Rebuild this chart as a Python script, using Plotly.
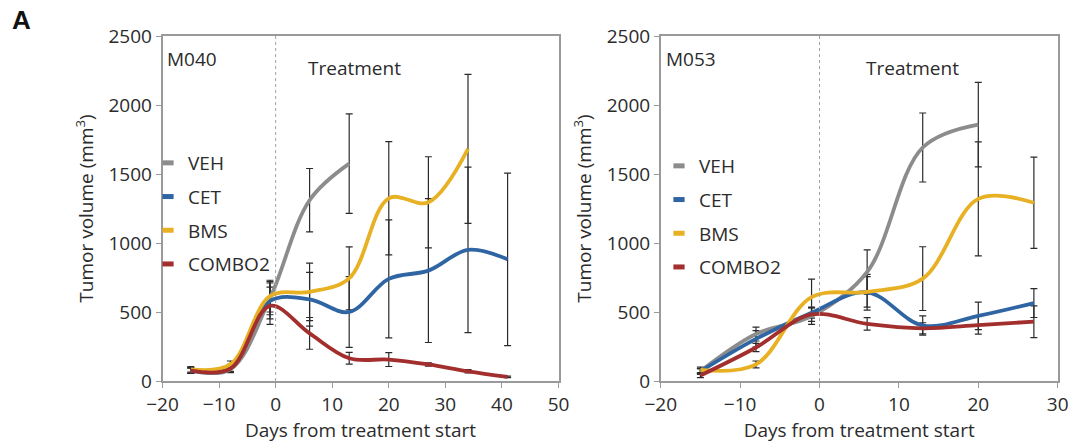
import plotly.graph_objects as go

# ---- M040 (left panel) ----
m040_days = [-15, -8, -1, 6, 13, 20, 27, 34, 41]
m040_veh = [75, 85, 600, 1310, 1575]
m040_veh_err = [20, 25, 120, 230, 360]
m040_cet = [75, 95, 580, 592, 500, 740, 800, 950, 882]
m040_cet_err = [20, 25, 130, 195, 256, 427, 521, 600, 625]
m040_bms = [85, 120, 615, 646, 744, 1324, 1295, 1682]
m040_bms_err = [20, 25, 115, 208, 228, 410, 330, 540]
m040_combo = [75, 90, 545, 345, 165, 155, 120, 70, 30]
m040_combo_err = [20, 25, 135, 115, 43, 50, 12, 12, 6]

# ---- M053 (right panel) ----
m053_days = [-15, -8, -1, 6, 13, 20, 27]
m053_veh = [70, 340, 470, 790, 1692, 1858]
m053_veh_err = [20, 50, 60, 160, 250, 306]
m053_cet = [70, 305, 495, 643, 402, 472, 565]
m053_cet_err = [20, 60, 40, 130, 70, 100, 105]
m053_bms = [80, 120, 608, 646, 742, 1320, 1292]
m053_bms_err = [20, 25, 130, 110, 231, 413, 331]
m053_combo = [40, 243, 482, 414, 382, 405, 430]
m053_combo_err = [15, 30, 50, 45, 40, 65, 115]

groups = ["VEH", "CET", "BMS", "COMBO2"]
colors = {"VEH": "#8c8c8c", "CET": "#2f65a2", "BMS": "#e8b124", "COMBO2": "#a22f2e"}

FONT = "Open Sans"
TXT = "#2b2b2b"
AX = "#9a9a9a"

panels = [
    dict(xa="x", ya="y", legend="legend", days=m040_days,
         series={"VEH": (m040_veh, m040_veh_err), "CET": (m040_cet, m040_cet_err),
                 "BMS": (m040_bms, m040_bms_err), "COMBO2": (m040_combo, m040_combo_err)}),
    dict(xa="x2", ya="y2", legend="legend2", days=m053_days,
         series={"VEH": (m053_veh, m053_veh_err), "CET": (m053_cet, m053_cet_err),
                 "BMS": (m053_bms, m053_bms_err), "COMBO2": (m053_combo, m053_combo_err)}),
]

fig = go.Figure()

for p in panels:
    # error bars first, so the smoothed curves sit on top
    for g in groups:
        vals, errs = p["series"][g]
        fig.add_trace(go.Scatter(
            x=p["days"][:len(vals)], y=vals, mode="markers",
            marker=dict(size=1, color="rgba(0,0,0,0)"),
            error_y=dict(type="data", array=errs, visible=True,
                         color="#2a2a2a", thickness=1.2, width=3.5),
            xaxis=p["xa"], yaxis=p["ya"], showlegend=False, hoverinfo="skip"))
    for g in groups:
        vals, _ = p["series"][g]
        fig.add_trace(go.Scatter(
            x=p["days"][:len(vals)], y=vals, mode="lines",
            line=dict(color=colors[g], width=3.8, shape="spline", smoothing=1.0),
            xaxis=p["xa"], yaxis=p["ya"], showlegend=False, name=g))
    # legend entries drawn as short thick dashes
    for g in groups:
        fig.add_trace(go.Scatter(
            x=[None], y=[None], mode="markers", name=g,
            marker=dict(symbol="line-ew", size=8, line=dict(width=5, color=colors[g])),
            xaxis=p["xa"], yaxis=p["ya"], legend=p["legend"], legendgroup=p["legend"] + g))

axis_common = dict(
    showline=True, mirror=True, linecolor=AX, linewidth=1.5,
    ticks="outside", ticklen=5, tickcolor=AX, tickwidth=1.2,
    showgrid=False, zeroline=False, automargin=False,
    tickfont=dict(family=FONT, size=19, color=TXT),
    title_font=dict(family=FONT, size=19, color=TXT),
)

ydom = [64 / 445, 409 / 445]
legend_common = dict(
    font=dict(family=FONT, size=19, color=TXT), bgcolor="rgba(0,0,0,0)",
    tracegroupgap=6, itemwidth=30, xanchor="left", yanchor="top",
)

fig.update_layout(
    width=1075, height=445, margin=dict(l=0, r=0, t=0, b=0, autoexpand=False),
    plot_bgcolor="white", paper_bgcolor="white",
    font=dict(family=FONT, color=TXT),
    xaxis=dict(domain=[162.5 / 1075, 558.5 / 1075], range=[-20, 50], dtick=10,
               title=dict(text="Days from treatment start", standoff=5), **axis_common),
    yaxis=dict(domain=ydom, range=[0, 2500], dtick=500,
               title=dict(text="Tumor volume (mm<sup>3</sup>)", standoff=10), **axis_common),
    xaxis2=dict(domain=[660.7 / 1075, 1057.7 / 1075], range=[-20, 30], dtick=10,
                title=dict(text="Days from treatment start", standoff=5), anchor="y2", **axis_common),
    yaxis2=dict(domain=ydom, range=[0, 2500], dtick=500, anchor="x2",
                title=dict(text="Tumor volume (mm<sup>3</sup>)", standoff=10), **axis_common),
    legend=dict(x=148 / 1075, y=(445 - 144) / 445, **legend_common),
    legend2=dict(x=659 / 1075, y=(445 - 147) / 445, **legend_common),
    shapes=[
        dict(type="line", xref="x", yref="y", x0=0, x1=0, y0=0, y1=2500,
             line=dict(color="#a0a0a0", width=1, dash="dot")),
        dict(type="line", xref="x2", yref="y2", x0=0, x1=0, y0=0, y1=2500,
             line=dict(color="#a0a0a0", width=1, dash="dot")),
    ],
    annotations=[
        dict(text="<b>A</b>", xref="paper", yref="paper", x=10 / 1075, y=(445 - 20) / 445,
             xanchor="left", yanchor="middle", showarrow=False,
             font=dict(family="Liberation Sans", size=26, color="#111")),
        dict(text="M040", xref="x", yref="y", x=-19.6, y=2330, xanchor="left",
             yanchor="middle", showarrow=False, font=dict(family=FONT, size=19, color=TXT)),
        dict(text="Treatment", xref="x", yref="y", x=14, y=2270, xanchor="center",
             yanchor="middle", showarrow=False, font=dict(family=FONT, size=19, color=TXT)),
        dict(text="M053", xref="x2", yref="y2", x=-19.6, y=2330, xanchor="left",
             yanchor="middle", showarrow=False, font=dict(family=FONT, size=19, color=TXT)),
        dict(text="Treatment", xref="x2", yref="y2", x=11.7, y=2270, xanchor="center",
             yanchor="middle", showarrow=False, font=dict(family=FONT, size=19, color=TXT)),
    ],
)

fig.write_html("out.html")
